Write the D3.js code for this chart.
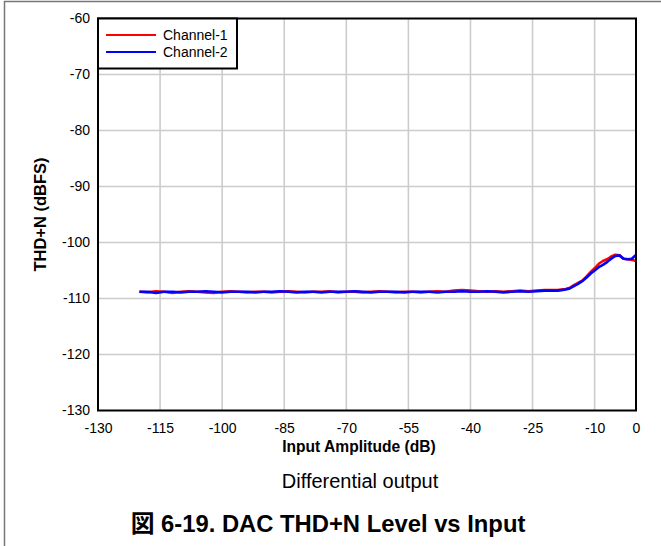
<!DOCTYPE html>
<html><head><meta charset="utf-8">
<script src="https://cdn.jsdelivr.net/npm/d3@7"></script>
<style>body{margin:0;background:#fff}svg{display:block}</style>
</head><body>
<svg id="c" width="661" height="546"></svg>
<script>
const xFlat = d3.range(-120, -19, 2);
const xRise = d3.range(-19, 1, 1);
const xValues = xFlat.concat(xRise);
const ch1Values = [
 -108.8,-108.9,-108.7,-108.8,-109.0,-108.8,-108.7,-108.8,-108.9,-109.0,
 -108.8,-108.7,-108.8,-108.9,-108.8,-108.8,-108.9,-108.8,-108.7,-108.8,
 -108.9,-108.8,-108.8,-108.7,-108.9,-108.8,-108.8,-108.9,-108.8,-108.7,
 -108.8,-108.9,-108.8,-108.8,-108.9,-108.8,-108.7,-108.8,-108.6,-108.5,
 -108.6,-108.7,-108.8,-108.7,-108.8,-108.7,-108.6,-108.7,-108.6,-108.5,
 -108.5,
 -108.5,-108.4,-108.3,-108.1,-107.6,-107.2,-106.8,-106.1,-105.3,-104.6,
 -103.8,-103.3,-103.0,-102.5,-102.2,-102.3,-102.9,-103.0,-103.1,-103.3
];
const ch2Values = [
 -108.8,-108.8,-109.0,-108.8,-108.8,-108.9,-108.8,-108.8,-108.7,-108.8,
 -108.9,-108.8,-108.8,-108.8,-108.9,-108.8,-108.8,-108.7,-108.8,-108.9,
 -108.8,-108.8,-108.9,-108.8,-108.8,-108.8,-108.7,-108.8,-108.9,-108.8,
 -108.8,-108.8,-108.9,-108.8,-108.8,-108.8,-108.9,-108.8,-108.8,-108.7,
 -108.8,-108.8,-108.7,-108.8,-108.9,-108.8,-108.7,-108.8,-108.7,-108.6,
 -108.6,
 -108.6,-108.5,-108.4,-108.2,-107.8,-107.4,-106.9,-106.3,-105.6,-105.0,
 -104.4,-104.0,-103.5,-102.9,-102.4,-102.3,-102.9,-103.0,-102.9,-102.2
];
const seriesNames = ["Channel-1", "Channel-2"];
const seriesColors = ["#ff0000", "#0000ff"];
const xTicks = [-130,-115,-100,-85,-70,-55,-40,-25,-10,0];
const yTicks = [-60,-70,-80,-90,-100,-110,-120,-130];

const svg = d3.select("#c");
const font = "Arial, 'Liberation Sans', 'Noto Sans CJK JP', sans-serif";
const L = 98, R = 636, T = 18.5, B = 410.5;
const x = d3.scaleLinear().domain([-130, 0]).range([L, R]);
const y = d3.scaleLinear().domain([-130, -60]).range([B, T]);

// outer frame (top and left only)
svg.append("line").attr("x1",4).attr("x2",661).attr("y1",1.5).attr("y2",1.5).attr("stroke","#777").attr("stroke-width",1.5);
svg.append("line").attr("x1",4.5).attr("x2",4.5).attr("y1",1).attr("y2",546).attr("stroke","#777").attr("stroke-width",1.5);

// grid
const g = svg.append("g");
g.selectAll("line.vx").data(xTicks.filter(t => t > -130 && t < 0)).join("line")
  .attr("x1", d => x(d)).attr("x2", d => x(d)).attr("y1", T).attr("y2", B)
  .attr("stroke", "#cccccc").attr("stroke-width", 1.6);
g.selectAll("line.hy").data(yTicks.filter(t => t > -130 && t < -60)).join("line")
  .attr("x1", L).attr("x2", R).attr("y1", d => y(d)).attr("y2", d => y(d))
  .attr("stroke", "#cccccc").attr("stroke-width", 1.6);

// axes labels via d3 axes
const fmt = d => String(d);
const xAxis = svg.append("g").attr("transform", `translate(0,${B})`)
  .call(d3.axisBottom(x).tickValues(xTicks).tickSize(0).tickPadding(13).tickFormat(fmt));
const yAxis = svg.append("g").attr("transform", `translate(${L},0)`)
  .call(d3.axisLeft(y).tickValues(yTicks).tickSize(0).tickPadding(8).tickFormat(fmt));
[xAxis, yAxis].forEach(a => {
  a.select(".domain").remove();
  a.selectAll("text").attr("font-family", font).attr("font-size", 14).attr("fill", "#000");
});

// lines
svg.append("clipPath").attr("id","clip").append("rect").attr("x",L).attr("y",T).attr("width",R-L).attr("height",B-T);
const line = d3.line().x((d,i) => x(xValues[i])).y(d => y(d));
[ch1Values, ch2Values].forEach((vals, k) => {
  svg.append("path").datum(vals).attr("d", line).attr("fill","none")
    .attr("stroke", seriesColors[k]).attr("stroke-width", 2.6)
    .attr("stroke-linejoin","round").attr("clip-path","url(#clip)");
});

// plot border
svg.append("rect").attr("x",L).attr("y",T).attr("width",R-L).attr("height",B-T)
  .attr("fill","none").attr("stroke","#000").attr("stroke-width",2);

// legend
const lg = svg.append("g");
lg.append("rect").attr("x",L).attr("y",T).attr("width",139).attr("height",50)
  .attr("fill","#fff").attr("stroke","#000").attr("stroke-width",2);
seriesNames.forEach((n,i) => {
  const yy = 35 + i*17;
  lg.append("line").attr("x1",106).attr("x2",156).attr("y1",yy).attr("y2",yy)
    .attr("stroke",seriesColors[i]).attr("stroke-width",2);
  lg.append("text").attr("x",163).attr("y",yy+5).text(n)
    .attr("font-family",font).attr("font-size",14).attr("fill","#000");
});

// axis titles
svg.append("text").attr("x", 359).attr("y", 452).attr("text-anchor","middle")
  .attr("font-family",font).attr("font-size",15.6).attr("font-weight","bold").text("Input Amplitude (dB)");
svg.append("text").attr("transform", `translate(46,${(T+B)/2}) rotate(-90)`).attr("text-anchor","middle")
  .attr("font-family",font).attr("font-size",16.5).attr("font-weight","bold").text("THD+N (dBFS)");
svg.append("text").attr("x", 360).attr("y", 488).attr("text-anchor","middle")
  .attr("font-family",font).attr("font-size",20).attr("fill","#000").text("Differential output");
svg.append("text").attr("x", 328).attr("y", 532).attr("text-anchor","middle")
  .attr("font-family",font).attr("font-size",23.8).attr("font-weight","bold").text("図 6-19. DAC THD+N Level vs Input");
</script>
</body></html>
